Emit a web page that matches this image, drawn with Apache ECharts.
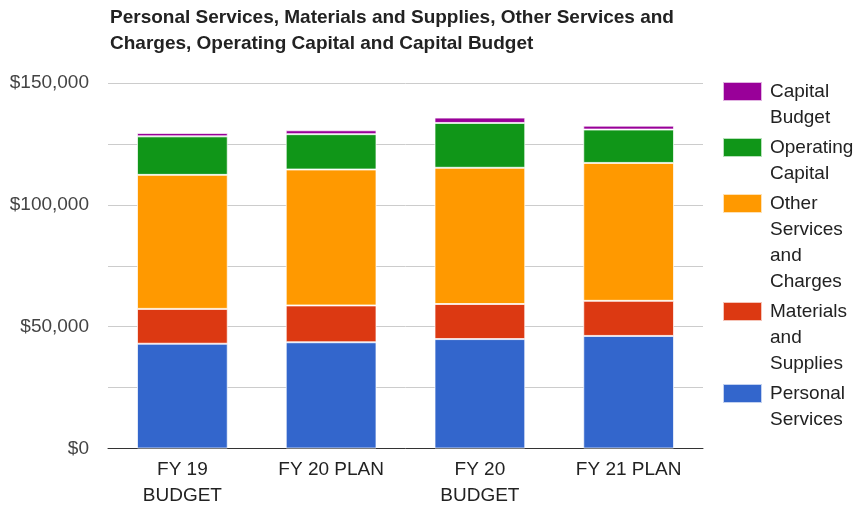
<!DOCTYPE html>
<html>
<head>
<meta charset="utf-8">
<script src="https://cdn.jsdelivr.net/npm/echarts@6/dist/echarts.min.js"></script>
<style>
  html, body { margin: 0; padding: 0; background: #fff; }
  #chart { width: 854px; height: 505px; }
</style>
</head>
<body>
<div id="chart"></div>
<script>
// Budget categories along the x axis
var categories = ['FY 19\nBUDGET', 'FY 20 PLAN', 'FY 20\nBUDGET', 'FY 21 PLAN'];

// Stacked amounts (dollars), bottom to top
var personalServices     = [43000, 43600, 44900, 46200];
var materialsSupplies    = [14300, 15100, 14400, 14400];
var otherServices        = [55000, 55800, 55900, 56600];
var operatingCapital     = [15800, 14500, 18400, 13700];
var capitalBudget        = [1400, 1600, 2200, 1600];

// Value axis ticks
var yTicks = [0, 50000, 100000, 150000];

// Series names and their wrapped legend text
var seriesNames = ['Personal Services', 'Materials and Supplies', 'Other Services and Charges', 'Operating Capital', 'Capital Budget'];
var legendLines = {
  'Capital Budget': ['Capital', 'Budget'],
  'Operating Capital': ['Operating', 'Capital'],
  'Other Services and Charges': ['Other', 'Services', 'and', 'Charges'],
  'Materials and Supplies': ['Materials', 'and', 'Supplies'],
  'Personal Services': ['Personal', 'Services']
};

var seriesData = [personalServices, materialsSupplies, otherServices, operatingCapital, capitalBudget];
var colors = ['#3366cc', '#dc3912', '#ff9900', '#109618', '#990099'];
var FONT = "'Liberation Sans', Arial, sans-serif";

function money(v) {
  var s = String(Math.round(v));
  return '$' + s.replace(/\B(?=(\d{3})+(?!\d))/g, ',');
}

// One legend block per series so each swatch lines up with the first line of its label.
// Legend text is centred on the swatch, so blank lines are put above the label
// to bring its first line level with the swatch.
var legendOrder = ['Capital Budget', 'Operating Capital', 'Other Services and Charges', 'Materials and Supplies', 'Personal Services'];
var LINE_H = 26, ITEM_GAP = 4;
var legends = [];
var centerY = 91.5;
legendOrder.forEach(function (name) {
  var n = legendLines[name].length;
  legends.push({
    orient: 'vertical',
    left: 722,
    top: centerY - (LINE_H / 2) * (2 * n - 1),
    padding: 0,
    itemWidth: 39,
    itemHeight: 19,
    selectedMode: false,
    data: [{ name: name, icon: 'rect' }],
    formatter: function (nm) {
      var lines = legendLines[nm];
      var pad = new Array(lines.length).join(' \n');
      return pad + lines.join('\n');
    },
    textStyle: {
      fontFamily: FONT,
      fontSize: 19,
      lineHeight: LINE_H,
      color: '#222',
      padding: [0, 0, 0, 3]
    }
  });
  centerY += LINE_H * n + ITEM_GAP;
});

var chart = echarts.init(document.getElementById('chart'), null, { renderer: 'canvas' });

chart.setOption({
  animation: false,
  color: colors,
  title: {
    text: 'Personal Services, Materials and Supplies, Other Services and\nCharges, Operating Capital and Capital Budget',
    left: 110,
    top: 5,
    padding: 0,
    textStyle: {
      fontFamily: FONT,
      fontSize: 19,
      fontWeight: 'bold',
      lineHeight: 26,
      color: '#222'
    }
  },
  legend: legends,
  grid: {
    left: 108,
    right: 151,
    top: 83,
    bottom: 56.5,
    containLabel: false,
    outerBoundsMode: 'none'
  },
  xAxis: {
    type: 'category',
    data: categories,
    boundaryGap: true,
    axisLine: { show: true, lineStyle: { color: '#333', width: 1 } },
    axisTick: { show: false },
    axisLabel: {
      fontFamily: FONT,
      fontSize: 19,
      lineHeight: 26,
      color: '#222',
      margin: 8,
      interval: 0
    }
  },
  yAxis: {
    type: 'value',
    min: yTicks[0],
    max: yTicks[yTicks.length - 1],
    interval: 25000,
    axisLine: { show: false },
    axisTick: { show: false },
    splitLine: { show: true, lineStyle: { color: '#cccccc', width: 1 } },
    axisLabel: {
      fontFamily: FONT,
      fontSize: 19,
      color: '#444',
      margin: 19,
      formatter: function (v) {
        return yTicks.indexOf(v) >= 0 ? money(v) : '';
      }
    }
  },
  series: seriesNames.map(function (name, i) {
    return {
      name: name,
      type: 'bar',
      stack: 'total',
      barWidth: '61%',
      data: seriesData[i],
      itemStyle: {
        color: colors[i],
        borderColor: 'rgba(255,255,255,0.7)',
        borderWidth: 1
      }
    };
  })
});
</script>
</body>
</html>
